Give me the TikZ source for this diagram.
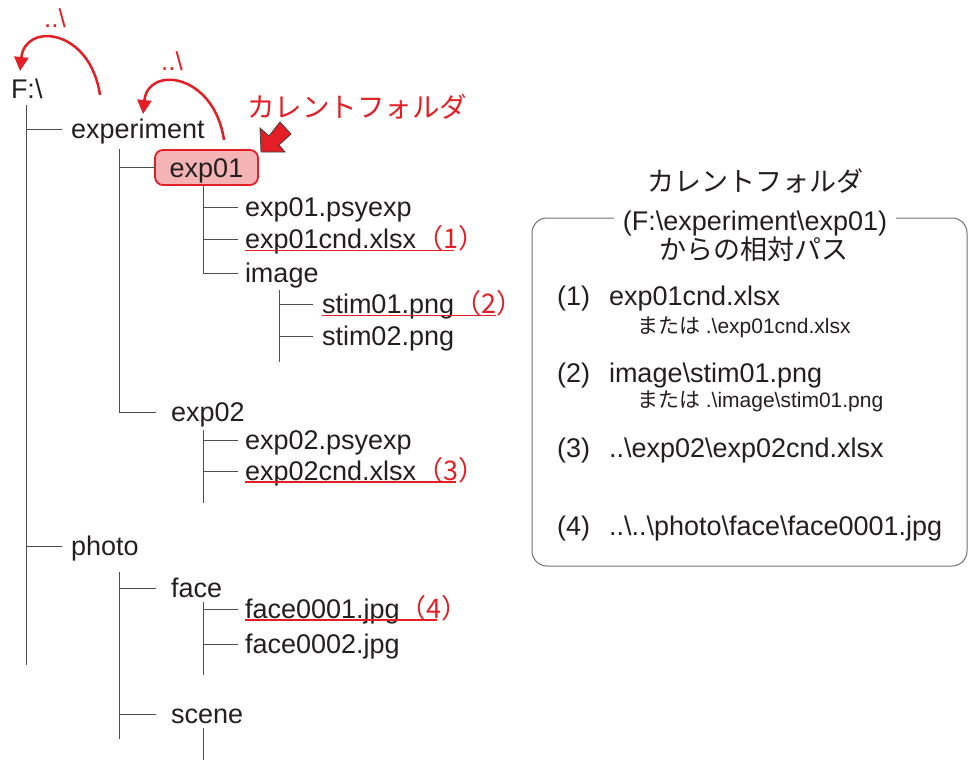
\documentclass[tikz,border=0pt]{standalone}
\usepackage{fontspec}
\setmainfont{Liberation Sans}
\newfontfamily\cjk{Noto Sans CJK JP}
\usetikzlibrary{arrows.meta}
\definecolor{txt}{HTML}{231F20}
\definecolor{treegray}{HTML}{4D4D4D}
\definecolor{myred}{HTML}{E31E24}
\definecolor{pinkfill}{HTML}{F4B3B5}
\definecolor{boxline}{HTML}{707070}
\begin{document}
\begin{tikzpicture}[x=1pt,y=-1pt,
  every node/.style={inner sep=0pt,outer sep=0pt,text=txt},
  lbl/.style={anchor=base west,font=\fontsize{27}{30}\selectfont,text height=22pt,text depth=4pt},
  redlbl/.style={anchor=base west,font=\cjk\fontsize{27}{30}\selectfont,text=myred},
  treeln/.style={draw=treegray,line width=0.9pt},
  uline/.style={draw=myred,line width=1.1pt},
  uparrow/.style={draw=myred,line width=2.5pt,-{Triangle[length=14pt,width=14pt]}},
  dots/.style={font=\fontsize{26}{28}\selectfont,text=myred},
  boxtxt/.style={anchor=base west,font=\fontsize{27}{30}\selectfont},
  subtxt/.style={anchor=base west,font=\fontsize{21}{24}\selectfont},
  jtitle/.style={font=\cjk\fontsize{27}{30}\selectfont}
]
\useasboundingbox (0,0) rectangle (968,760);

% ---- tree nodes
\node[lbl] (root) at (11,98) {F:\textbackslash};
\node[lbl] (experiment) at (71,138) {experiment};
\node[draw=myred,line width=1.8pt,fill=pinkfill,rounded corners=8pt,
      minimum width=103pt,minimum height=35pt,font=\fontsize{27}{30}\selectfont,
      text height=20pt,text depth=0pt] (exp01) at (206.5,167.5) {exp01};
\node[lbl] (psy1) at (245,216) {exp01.psyexp};
\node[lbl] (cnd1) at (245,248) {exp01cnd.xlsx};
\node[lbl] (image) at (245,282) {image};
\node[lbl] (stim1) at (322,313) {stim01.png};
\node[lbl] (stim2) at (322,345) {stim02.png};
\node[lbl] (exp02) at (171,421) {exp02};
\node[lbl] (psy2) at (245,449) {exp02.psyexp};
\node[lbl] (cnd2) at (245,480) {exp02cnd.xlsx};
\node[lbl] (photo) at (71,555) {photo};
\node[lbl] (face) at (171,597) {face};
\node[lbl] (face1) at (245,618) {face0001.jpg};
\node[lbl] (face2) at (245,653) {face0002.jpg};
\node[lbl] (scene) at (171,723) {scene};

% ---- vertical tree lines
\coordinate (v0) at (26,105);
\coordinate (v1) at (119.5,149);
\coordinate (v2) at (203,186);
\coordinate (v3) at (279,290);
\coordinate (v4) at (203,430);
\coordinate (v5) at (119.5,572);
\coordinate (v6) at (203,602);
\coordinate (v7) at (203,728);
\coordinate (v0e) at (26,665);
\coordinate (v3e) at (279,362);
\coordinate (v4e) at (203,503);
\coordinate (v5e) at (119.5,739);
\coordinate (v6e) at (203,675);
\coordinate (v7e) at (203,760);

\draw[treeln] (v0) -- (v0e);
\draw[treeln] (v0 |- experiment.west) -- ++(36,0);
\draw[treeln] (v0 |- photo.west) -- ++(36,0);

\draw[treeln] (v1) -- (v1 |- exp02.west) -- ++(36,0);
\draw[treeln] (v1 |- exp01.west) -- (exp01.west);

\draw[treeln] (v2) -- (v2 |- image.west) -- ++(35,0);
\draw[treeln] (v2 |- psy1.west) -- ++(35,0);
\draw[treeln] (v2 |- cnd1.west) -- ++(35,0);

\draw[treeln] (v3) -- (v3e);
\draw[treeln] (v3 |- stim1.west) -- ++(34,0);
\draw[treeln] (v3 |- stim2.west) -- ++(34,0);

\draw[treeln] (v4) -- (v4e);
\draw[treeln] (v4 |- psy2.west) -- ++(35,0);
\draw[treeln] (v4 |- cnd2.west) -- ++(35,0);

\draw[treeln] (v5) -- (v5e);
\draw[treeln] (v5 |- face.west) -- ++(36,0);
\draw[treeln] (v5 |- scene.west) -- ++(36,0);

\draw[treeln] (v6) -- (v6e);
\draw[treeln] (v6 |- face1.west) -- ++(35,0);
\draw[treeln] (v6 |- face2.west) -- ++(35,0);

\draw[treeln] (v7) -- (v7e);

% ---- red markers
\node[redlbl] (m1) at (cnd1.base east) {（1）};
\node[redlbl] (m2) at (stim1.base east) {（2）};
\node[redlbl] (m3) at (cnd2.base east) {（3）};
\node[redlbl] (m4) at (face1.base east) {（4）};
\draw[uline] ([yshift=-2.5pt]cnd1.base west) -- ([xshift=38pt,yshift=-2.5pt]m1.base west);
\draw[uline] ([yshift=-2.5pt]stim1.base west) -- ([xshift=42pt,yshift=-2.5pt]m2.base west);
\draw[uline] ([yshift=-2pt]cnd2.base west) -- ([xshift=40pt,yshift=-2pt]m3.base west);
\draw[uline] ([yshift=-2pt]face1.base west) -- ([xshift=37pt,yshift=-2pt]m4.base west);

% ---- up arrows
\node[dots] (up1) at (55,18) {..\textbackslash};
\node[dots] (up2) at (172,61) {..\textbackslash};
\coordinate (a1s) at (100,95);
\coordinate (a1e) at (20,71);
\coordinate (a2s) at (224,140);
\coordinate (a2e) at (143,114);
\draw[uparrow] (a1s) .. controls (90,28) and (25,22) .. (a1e);
\draw[uparrow] (a2s) .. controls (214,73) and (148,65) .. (a2e);

% ---- current folder label and block arrow
\node[anchor=west,font=\cjk\fontsize{27.5}{30}\selectfont,text=myred] (cur) at (247,107) {カレントフォルダ};
\draw[draw=black!75,fill=myred,line width=0.8pt,line join=miter]
  (261,152) -- (260,128) -- (269,136) -- (280,122) -- (291,134) -- (279,145) -- (285,152) -- cycle;

% ---- right box
\draw[draw=boxline,line width=1pt,rounded corners=15pt] (532,218) rectangle (967,566);
\node[jtitle] (t1) at (755,181) {カレントフォルダ};
\node[fill=white,inner xsep=9pt,inner ysep=2pt,anchor=base,font=\fontsize{27}{30}\selectfont] (t2) at (755,230) {(F:\textbackslash experiment\textbackslash exp01)};
\node[jtitle] (t3) at (754,249) {からの相対パス};

\node[boxtxt] (n1) at (557,305) {(1)};
\node[boxtxt] (p1) at (609,305) {exp01cnd.xlsx};
\node[subtxt] (s1) at (637,333) {{\cjk または} .\textbackslash exp01cnd.xlsx};
\node[boxtxt] (n2) at (557,382) {(2)};
\node[boxtxt] (p2) at (609,382) {image\textbackslash stim01.png};
\node[subtxt] (s2) at (637,407) {{\cjk または} .\textbackslash image\textbackslash stim01.png};
\node[boxtxt] (n3) at (557,457) {(3)};
\node[boxtxt] (p3) at (609,457) {..\textbackslash exp02\textbackslash exp02cnd.xlsx};
\node[boxtxt] (n4) at (557,535) {(4)};
\node[boxtxt] (p4) at (609,535) {..\textbackslash..\textbackslash photo\textbackslash face\textbackslash face0001.jpg};
\end{tikzpicture}
\end{document}
